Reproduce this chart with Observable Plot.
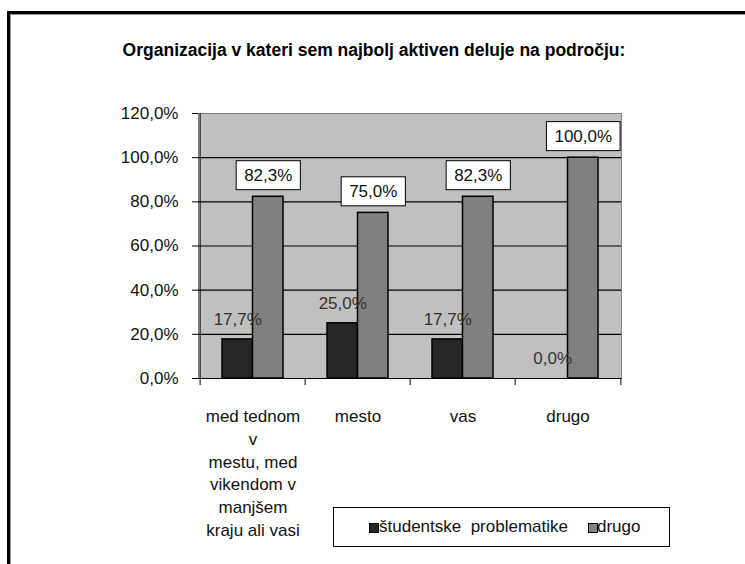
<!DOCTYPE html>
<html><head><meta charset="utf-8">
<script src="https://cdn.jsdelivr.net/npm/d3@7"></script>
<script src="https://cdn.jsdelivr.net/npm/@observablehq/plot@0.6"></script>
<style>
body{margin:0;background:#fff;font-family:"Liberation Sans",Arial,sans-serif;}
#wrap{position:relative;width:745px;height:564px;overflow:hidden;background:#fff;}
#b1{position:absolute;left:7px;top:11px;width:800px;height:700px;border-left:3px solid #000;border-top:3px solid #000;}
#b2{position:absolute;left:10px;top:14px;width:800px;height:700px;border-left:1px solid #999;border-top:1px solid #999;}
#chart{position:absolute;left:0;top:0;}
#title{position:absolute;left:0;width:748px;top:40px;line-height:20px;text-align:center;font-size:17.5px;font-weight:bold;color:#000;}
#legend{position:absolute;left:333px;top:507px;width:337px;height:40px;border:1px solid #000;box-sizing:border-box;background:#fff;font-size:17px;color:#111;}
.sw{position:absolute;width:8px;height:8px;border:1px solid #000;top:15px;}
.lt{position:absolute;top:9px;line-height:20px;white-space:pre;}
</style>
</head><body>
<div id="wrap">
  <div id="b1"></div><div id="b2"></div>
  <div id="chart"></div>
  <div id="title"></div>
  <div id="legend"></div>
</div>
<script>
const titleText = "Organizacija v kateri sem najbolj aktiven deluje na področju:";
const categories = ["med tednom v mestu, med vikendom v manjšem kraju ali vasi", "mesto", "vas", "drugo"];
const categoryLabels = ["med tednom\nv\nmestu, med\nvikendom v\nmanjšem\nkraju ali vasi", "mesto", "vas", "drugo"];
const seriesNames = ["študentske  problematike", "drugo"];
const studentske = [0.177, 0.25, 0.177, 0.0];
const drugo = [0.823, 0.75, 0.823, 1.0];
const yTicks = [0, 0.2, 0.4, 0.6, 0.8, 1.0, 1.2];
const colors = ["#262626", "#808080"];

const fmt = d => (d * 100).toFixed(1).replace(".", ",") + "%";
const dataA = categories.map((c, i) => ({category: c, value: studentske[i]}));
const dataB = categories.map((c, i) => ({category: c, value: drugo[i]}));

const W = 745, H = 564, mL = 198, mR = 124, mT = 113, mB = 186;
const step = (W - mL - mR) / categories.length;
const pIn = 0.423;
const bw = step * (1 - pIn);
const half = bw / 2;

const plot = Plot.plot({
  width: W, height: H,
  marginLeft: mL, marginRight: mR, marginTop: mT, marginBottom: mB,
  style: {background: "transparent", fontFamily: "'Liberation Sans', Arial, sans-serif", color: "#111"},
  x: {domain: categories, paddingInner: pIn, paddingOuter: pIn / 2, label: null},
  y: {domain: [0, 1.2], label: null},
  marks: [
    Plot.frame({fill: "#c0c0c0", stroke: "#808080"}),
    Plot.ruleY(yTicks.filter(v => v > 0 && v < 1.2), {stroke: "#000", strokeWidth: 1.2}),
    Plot.ruleY([0], {stroke: "#000"}),
    Plot.ruleX([categories[0]], {dx: -step / 2, stroke: "#000"}),
    Plot.ruleX(categories, {x: d => d, y1: 0, y2: 0, dx: -step / 2, insetBottom: -7, stroke: "#000"}),
    Plot.ruleX([categories[categories.length - 1]], {x: d => d, y1: 0, y2: 0, dx: step / 2, insetBottom: -7, stroke: "#000"}),
    Plot.axisY({ticks: yTicks, tickSize: 6, tickPadding: 14, fontSize: 17, tickFormat: fmt, stroke: "#000", label: null}),
    Plot.axisX({tickSize: 0, tickPadding: 27, fontSize: 17, lineHeight: 1.347, label: null, tickFormat: d => categoryLabels[categories.indexOf(d)]}),
    Plot.barY(dataA, {x: "category", y: "value", fill: colors[0], stroke: "#000", strokeWidth: 1.5, insetRight: half}),
    Plot.barY(dataB, {x: "category", y: "value", fill: colors[1], stroke: "#000", strokeWidth: 1.5, insetLeft: half}),
    Plot.text(dataA, {x: "category", y: "value", text: d => fmt(d.value), dx: -half / 2, dy: -20, fontSize: 17, fill: "#333"}),
    Plot.text(dataB, {x: "category", y: "value", text: d => fmt(d.value), dx: half / 2, dy: -21.5, fontSize: 17, fill: "#111"})
  ]
});
document.getElementById("chart").appendChild(plot);

// white boxes behind the "drugo" value labels (second text mark)
const svgNS = "http://www.w3.org/2000/svg";
const textGroups = plot.querySelectorAll('g[aria-label="text"]');
const grp = textGroups[textGroups.length - 1];
if (grp) {
  grp.querySelectorAll("text").forEach(t => {
    const bb = t.getBBox();
    const r = document.createElementNS(svgNS, "rect");
    const cy = bb.y + bb.height / 2;
    r.setAttribute("x", bb.x - 8);
    r.setAttribute("y", cy - 14.5);
    r.setAttribute("width", bb.width + 16);
    r.setAttribute("height", 29);
    r.setAttribute("fill", "#fff");
    r.setAttribute("stroke", "#000");
    r.setAttribute("stroke-width", 1);
    if (t.getAttribute("transform")) r.setAttribute("transform", t.getAttribute("transform"));
    grp.insertBefore(r, t);
  });
}

document.getElementById("title").textContent = titleText;

const lg = document.getElementById("legend");
const pos = [{sw: 35, tx: 45}, {sw: 254, tx: 263}];
seriesNames.forEach((n, i) => {
  const s = document.createElement("div");
  s.className = "sw"; s.style.left = pos[i].sw + "px"; s.style.background = colors[i];
  const t = document.createElement("div");
  t.className = "lt"; t.style.left = pos[i].tx + "px"; t.textContent = n;
  lg.appendChild(s); lg.appendChild(t);
});
</script>
</body></html>
